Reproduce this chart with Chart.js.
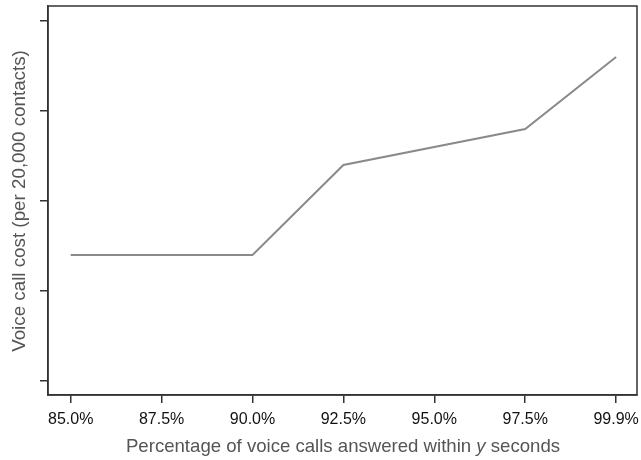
<!DOCTYPE html>
<html>
<head>
<meta charset="utf-8">
<style>
  html, body { margin: 0; padding: 0; background: #fff; }
  #wrap { width: 641px; height: 460px; }
</style>
<script src="https://cdn.jsdelivr.net/npm/chart.js@4.4.1/dist/chart.umd.min.js"></script>
</head>
<body>
<div id="wrap"><canvas id="costChart" width="641" height="460"></canvas></div>
<script>
// service level categories (x axis)
var levels = ["85.0%", "87.5%", "90.0%", "92.5%", "95.0%", "97.5%", "99.9%"];
// cost per 20,000 contacts, relative units (null = no point at that level)
var costs = [1.4, null, 1.4, 2.4, null, 2.8, 3.6];
// unlabelled y tick positions
var yTicks = [0, 1, 2, 3, 4];

var FONT = "'Liberation Sans', Arial, Helvetica, sans-serif";

var points = [];
costs.forEach(function (c, i) {
  if (c !== null) points.push({ x: i, y: c });
});

// box + axis titles (x title has an italic "y")
var frame = {
  id: "frame",
  afterDraw: function (chart) {
    var ctx = chart.ctx, a = chart.chartArea;
    ctx.save();
    ctx.strokeStyle = "#333";
    ctx.lineWidth = 1.5;
    ctx.strokeRect(a.left, a.top, a.right - a.left, a.bottom - a.top);

    ctx.fillStyle = "#555";
    ctx.textBaseline = "alphabetic";
    var parts = [
      ["Percentage of voice calls answered within ", "normal"],
      ["y", "italic"],
      [" seconds", "normal"]
    ];
    var total = 0;
    parts.forEach(function (p) {
      ctx.font = p[1] + " 18.6px " + FONT;
      p.w = ctx.measureText(p[0]).width;
      total += p.w;
    });
    var x = 343 - total / 2;
    parts.forEach(function (p) {
      ctx.font = p[1] + " 18.6px " + FONT;
      ctx.textAlign = "left";
      ctx.fillText(p[0], x, 452);
      x += p.w;
    });

    ctx.translate(25, 201);
    ctx.rotate(-Math.PI / 2);
    ctx.font = "18.8px " + FONT;
    ctx.textAlign = "center";
    ctx.fillText("Voice call cost (per 20,000 contacts)", 0, 0);
    ctx.restore();
  }
};

var ctx = document.getElementById("costChart");
var costChart = new Chart(ctx, {
  type: "line",
  data: {
    datasets: [
      {
        data: points,
        borderColor: "#8a8a8a",
        borderWidth: 2,
        pointRadius: 0,
        tension: 0,
        fill: false
      }
    ]
  },
  options: {
    responsive: false,
    animation: false,
    layout: { padding: { top: 6, right: 4, left: 0, bottom: 0 } },
    plugins: { legend: { display: false }, tooltip: { enabled: false } },
    scales: {
      x: {
        type: "linear",
        min: -0.25,
        max: 6.23,
        afterBuildTicks: function (s) {
          s.ticks = levels.map(function (l, i) { return { value: i }; });
        },
        afterFit: function (s) {
          s.height = 65;
          s.paddingLeft = 0;
          s.paddingRight = 0;
        },
        ticks: {
          color: "#111",
          font: { family: FONT, size: 16 },
          padding: 7,
          maxRotation: 0,
          autoSkip: false,
          callback: function (v) { return levels[v]; }
        },
        grid: { drawOnChartArea: false, color: "#333", lineWidth: 1.5, tickLength: 8 },
        border: { color: "#333", width: 1.5 }
      },
      y: {
        type: "linear",
        min: -0.156,
        max: 4.167,
        afterBuildTicks: function (s) {
          s.ticks = yTicks.map(function (v) { return { value: v }; });
        },
        afterFit: function (s) {
          s.width = 48;
          s.paddingTop = 0;
          s.paddingBottom = 0;
        },
        ticks: { display: false },
        grid: { drawOnChartArea: false, color: "#333", lineWidth: 1.5, tickLength: 8 },
        border: { color: "#333", width: 1.5 }
      }
    }
  },
  plugins: [frame]
});
</script>
</body>
</html>
